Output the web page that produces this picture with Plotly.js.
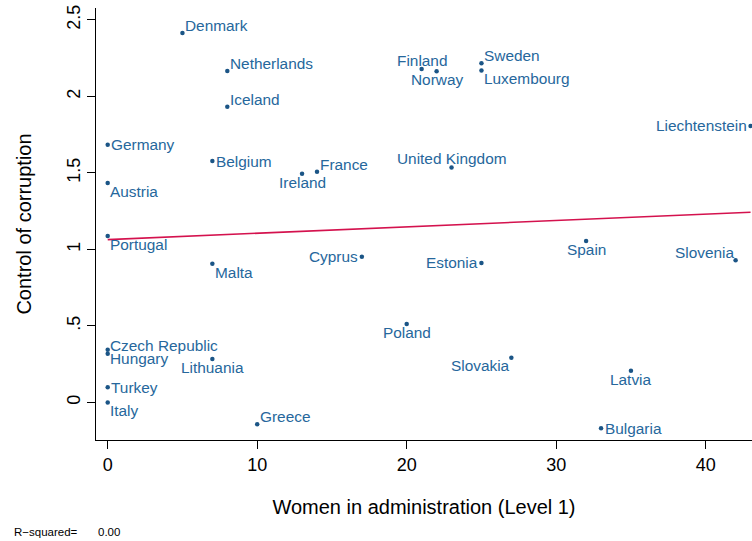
<!DOCTYPE html>
<html>
<head>
<meta charset="utf-8">
<script src="https://cdn.plot.ly/plotly-3.0.1.min.js"></script>
<style>
  html, body { margin: 0; padding: 0; background: #fff; }
  #chart { width: 752px; height: 541px; }
</style>
</head>
<body>
<div id="chart"></div>
<script>
// ---- data ----
const countries = ["Denmark","Netherlands","Iceland","Germany","Belgium","Austria","Portugal","Malta",
  "Czech Republic","Hungary","Lithuania","Turkey","Italy","Greece","Cyprus","Estonia","Poland",
  "Slovakia","Spain","Slovenia","Latvia","Bulgaria","Finland","Norway","Sweden","Luxembourg",
  "France","Ireland","United Kingdom","Liechtenstein"];
const womenAdmin = [5, 8, 8, 0, 7, 0, 0, 7,
  0, 0, 7, 0, 0, 10, 17, 25, 20,
  27, 32, 42, 35, 33, 21, 22, 25, 25,
  14, 13, 23, 43];
const corruption = [2.415, 2.167, 1.933, 1.685, 1.578, 1.435, 1.088, 0.907,
  0.345, 0.319, 0.284, 0.099, 0.000, -0.142, 0.953, 0.912, 0.513,
  0.293, 1.056, 0.929, 0.208, -0.169, 2.180, 2.165, 2.217, 2.169,
  1.508, 1.495, 1.535, 1.807];
const xTickVals = [0, 10, 20, 30, 40];
const yTickVals = [0, 0.5, 1, 1.5, 2, 2.5];
const yTickText = ["0", ".5", "1", "1.5", "2", "2.5"];

// ---- marker label clock positions (style, as in Stata's mlabvposition) ----
const labelClock = {
  "Denmark":1,"Netherlands":1,"Iceland":1,"Germany":3,"Belgium":3,"Austria":5,"Portugal":5,"Malta":5,
  "Czech Republic":2,"Hungary":4,"Lithuania":6,"Turkey":3,"Italy":5,"Greece":1,"Cyprus":9,"Estonia":9,
  "Poland":6,"Slovakia":7,"Spain":6,"Slovenia":11,"Latvia":6,"Bulgaria":3,"Finland":12,"Norway":6,
  "Sweden":1,"Luxembourg":5,"France":1,"Ireland":6,"United Kingdom":12,"Liechtenstein":9
};
const clockStyle = {
  1:  {xanchor:"left",   xshift: 2.5, yshift:  7.6},
  2:  {xanchor:"left",   xshift: 2.5, yshift:  4},
  3:  {xanchor:"left",   xshift: 3.5, yshift:  0},
  4:  {xanchor:"left",   xshift: 2.5, yshift: -5},
  5:  {xanchor:"left",   xshift: 2.5, yshift: -8.3},
  6:  {xanchor:"center", xshift: 0,   yshift: -8.5},
  7:  {xanchor:"right",  xshift: -1.7, yshift: -8.3},
  9:  {xanchor:"right",  xshift: -3.4, yshift: 0},
  11: {xanchor:"right",  xshift: -1.7, yshift:  8.3},
  12: {xanchor:"center", xshift: 0,   yshift:  8.7}
};

// ---- OLS fit ----
const n = womenAdmin.length;
const mx = womenAdmin.reduce((a,b)=>a+b,0)/n;
const my = corruption.reduce((a,b)=>a+b,0)/n;
let sxy = 0, sxx = 0, syy = 0;
for (let i = 0; i < n; i++) {
  sxy += (womenAdmin[i]-mx)*(corruption[i]-my);
  sxx += (womenAdmin[i]-mx)**2;
  syy += (corruption[i]-my)**2;
}
const slope = sxy/sxx, intercept = my - slope*mx;
const r2 = (sxy*sxy)/(sxx*syy);
const xmin = Math.min(...womenAdmin), xmax = Math.max(...womenAdmin);
const fitX = [xmin, xmax];
const fitY = fitX.map(v => intercept + slope*v);

const FONT = "Liberation Sans, Arial, Helvetica, sans-serif";
const labelColor = "#26679c";

const annotations = countries.map((c, i) => {
  const s = clockStyle[labelClock[c]];
  return {
    x: womenAdmin[i], y: corruption[i], xref: "x", yref: "y",
    text: c, showarrow: false, xanchor: s.xanchor, yanchor: "middle",
    xshift: s.xshift, yshift: s.yshift, borderpad: 0, borderwidth: 0,
    font: {family: FONT, size: 15.4, color: labelColor}
  };
});
annotations.push({
  xref: "paper", yref: "paper", x: 0, y: 0, xanchor: "left", yanchor: "middle",
  xshift: -83, yshift: -92, showarrow: false, borderpad: 0,
  text: "R\u2212squared=", font: {family: FONT, size: 11.5, color: "#000"}
});
annotations.push({
  xref: "paper", yref: "paper", x: 0, y: 0, xanchor: "left", yanchor: "middle",
  xshift: 0.5, yshift: -92, showarrow: false, borderpad: 0,
  text: r2.toFixed(2), font: {family: FONT, size: 11.5, color: "#000"}
});

const traces = [
  {
    type: "scatter", mode: "markers", x: womenAdmin, y: corruption, text: countries,
    marker: {size: 4.5, color: "#1b5586"}, hoverinfo: "text+x+y", cliponaxis: false
  },
  {
    type: "scatter", mode: "lines", x: fitX, y: fitY,
    line: {color: "#d4124e", width: 1.6}, hoverinfo: "skip"
  }
];

const layout = {
  width: 752, height: 541,
  margin: {l: 96, r: 0, t: 8, b: 101, pad: 0},
  paper_bgcolor: "#fff", plot_bgcolor: "#fff",
  showlegend: false,
  font: {family: FONT, color: "#000"},
  xaxis: {
    range: [-0.783, 43.097], showgrid: false, zeroline: false,
    showline: true, linecolor: "#000", linewidth: 1,
    ticks: "outside", ticklen: 8, tickwidth: 1, tickcolor: "#000",
    tickmode: "array", tickvals: xTickVals,
    tickfont: {family: FONT, size: 18, color: "#000"},
    title: {text: "Women in administration (Level 1)", font: {family: FONT, size: 20, color: "#000"}, standoff: 26}
  },
  yaxis: {
    range: [-0.245, 2.578], showgrid: false, zeroline: false,
    showline: true, linecolor: "#000", linewidth: 1,
    ticks: "outside", ticklen: 8, tickwidth: 1, tickcolor: "#000",
    tickmode: "array", tickvals: yTickVals, ticktext: yTickText, tickangle: -90,
    tickfont: {family: FONT, size: 18, color: "#000"},
    title: {text: "Control of corruption", font: {family: FONT, size: 20, color: "#000"}, standoff: 26}
  },
  annotations: annotations
};

Plotly.newPlot("chart", traces, layout, {displayModeBar: false, staticPlot: true});
</script>
</body>
</html>
